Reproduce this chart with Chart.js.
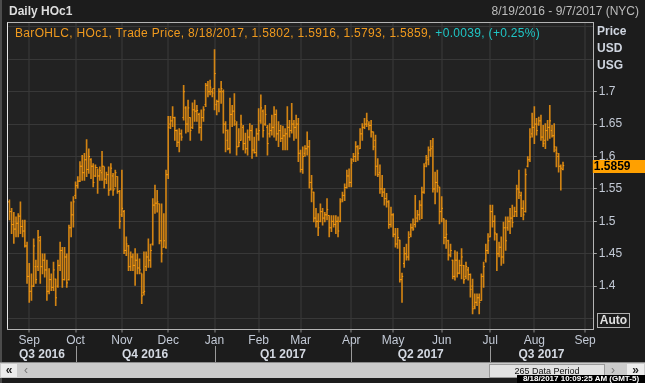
<!DOCTYPE html>
<html>
<head>
<meta charset="utf-8">
<script src="https://cdn.jsdelivr.net/npm/chart.js@4.4.1/dist/chart.umd.min.js"></script>
<style>
  body { margin: 0; background: #1c1c1c; }
  #wrap { position: relative; width: 645px; height: 383px; overflow: hidden; background: #1c1c1c; font-family: "Liberation Sans", Arial, sans-serif; }
  #chart { position: absolute; left: 0; top: 0; }
  .t { position: absolute; font-size: 12px; line-height: 14px; white-space: nowrap; }
  .ax { color: #d0d6e0; font-weight: bold; left: 597px; }
  #scroll { position: absolute; left: 0; top: 362px; width: 645px; height: 15px; background: #cbcbcb; border-top: 1px solid #8c8c8c; }
  .btn { position: absolute; top: 1px; height: 13px; background: #ececec; font-size: 12px; line-height: 12px; font-weight: bold; color: #222; text-align: center; }
  #thumb { position: absolute; left: 489px; top: 1px; width: 114px; height: 12px; background: #e2e2e2; border: 1px solid #9a9a9a; font-size: 9px; line-height: 12px; color: #111; text-align: center; }
  #stamp { position: absolute; right: 0; top: 375px; width: 128px; height: 8px; background: #000; color: #fff; font-size: 8px; line-height: 8px; font-weight: bold; text-align: center; }
</style>
</head>
<body>
<div id="wrap">
  <canvas id="chart" width="645" height="383"></canvas>
  <div style="position:absolute;left:0;top:0;width:2px;height:383px;background:#4c4c4c"></div>
  <div class="t" style="left:9px;top:4px;font-weight:bold;color:#dedede">Daily HOc1</div>
  <div class="t" id="range" style="right:6px;top:4px;color:#bdbdbd"></div>
  <div class="t" id="info" style="left:15px;top:26px;color:#f09a1e;letter-spacing:0.32px"></div>
  <div class="t ax" style="top:24px">Price</div>
  <div class="t ax" style="top:41px">USD</div>
  <div class="t ax" style="top:58px">USG</div>
  <div class="t" style="left:597px;top:313px;width:31px;height:13px;border:1px solid #b0b0b0;line-height:13px;text-align:center;font-weight:bold;color:#e0e0e0">Auto</div>
  <div id="scroll">
    <div class="btn" style="left:1px;width:16px">&laquo;</div>
    <div class="t" style="left:24px;top:0;color:#777">&lsaquo;</div>
    <div id="thumb"></div>
    <div class="t" style="left:611px;top:0;color:#777">&rsaquo;</div>
    <div class="btn" style="left:627px;width:17px">&raquo;</div>
  </div>
  <div id="stamp"></div>
</div>
<script>
// ***** datos *****
const startDay = "2016-08-19"
const endDay = "2017-09-07"
const holidays = ["2016-09-05", "2016-11-24", "2016-12-26", "2017-01-02", "2017-01-16",
  "2017-02-20", "2017-04-14", "2017-05-29", "2017-07-04", "2017-09-04"]
const monthNames = ["Jan", "Feb", "Mar", "Apr", "May", "Jun", "Jul", "Aug", "Sep", "Oct", "Nov", "Dec"]
const quarterNames = ["Q3 2016", "Q4 2016", "Q1 2017", "Q2 2017", "Q3 2017"]
const labelRange = [1.4, 1.7]
const updatedAt = "8/18/2017 10:09:25 AM (GMT-5)"

const openPrices = [
  1.530, 1.515, 1.495, 1.488, 1.497, 1.508, 1.492, 1.485, 1.462, 1.415,
  1.392, 1.400, 1.430, 1.430, 1.470, 1.430, 1.440, 1.425, 1.392, 1.410,
  1.398, 1.411, 1.400, 1.432, 1.455, 1.410, 1.445, 1.410, 1.490, 1.510,
  1.540, 1.555, 1.562, 1.585, 1.575, 1.595, 1.580, 1.595, 1.585, 1.570,
  1.583, 1.570, 1.575, 1.585, 1.565, 1.572, 1.550, 1.570, 1.550, 1.569,
  1.546, 1.510, 1.515, 1.455, 1.462, 1.430, 1.445, 1.432, 1.440, 1.428,
  1.420, 1.390, 1.430, 1.445, 1.440, 1.465, 1.525, 1.528, 1.527, 1.470,
  1.460, 1.460, 1.572, 1.650, 1.655, 1.660, 1.640, 1.622, 1.635, 1.660,
  1.675, 1.650, 1.660, 1.645, 1.672, 1.670, 1.665, 1.645, 1.660, 1.680,
  1.710, 1.700, 1.700, 1.705, 1.680, 1.685, 1.700, 1.700, 1.650, 1.625,
  1.612, 1.665, 1.670, 1.650, 1.615, 1.625, 1.645, 1.620, 1.612, 1.630,
  1.640, 1.610, 1.606, 1.635, 1.655, 1.670, 1.650, 1.645, 1.635, 1.640,
  1.645, 1.665, 1.635, 1.640, 1.628, 1.632, 1.635, 1.645, 1.640, 1.650,
  1.645, 1.650, 1.605, 1.580, 1.605, 1.612, 1.615, 1.560, 1.545, 1.505,
  1.500, 1.500, 1.515, 1.505, 1.510, 1.509, 1.490, 1.500, 1.495, 1.500,
  1.500, 1.533, 1.540, 1.552, 1.570, 1.560, 1.595, 1.600, 1.615, 1.612,
  1.635, 1.645, 1.650, 1.650, 1.648, 1.638, 1.625, 1.585, 1.575, 1.550,
  1.545, 1.535, 1.530, 1.495, 1.510, 1.480, 1.465, 1.471, 1.410, 1.435,
  1.450, 1.445, 1.480, 1.490, 1.495, 1.505, 1.510, 1.525, 1.545, 1.590,
  1.595, 1.610, 1.615, 1.550, 1.560, 1.553, 1.515, 1.504, 1.475, 1.470,
  1.448, 1.440, 1.415, 1.440, 1.420, 1.432, 1.432, 1.415, 1.425, 1.418,
  1.400, 1.368, 1.375, 1.382, 1.378, 1.415, 1.440, 1.455, 1.476, 1.515,
  1.500, 1.480, 1.450, 1.460, 1.445, 1.490, 1.490, 1.500, 1.505, 1.508,
  1.515, 1.550, 1.540, 1.520, 1.515, 1.585, 1.595, 1.635, 1.645, 1.650,
  1.650, 1.655, 1.630, 1.625, 1.640, 1.645, 1.640, 1.632, 1.610, 1.600,
  1.585, 1.5802
]
const highPrices = [
  1.533, 1.520, 1.514, 1.507, 1.512, 1.530, 1.502, 1.502, 1.468, 1.435,
  1.419, 1.473, 1.440, 1.486, 1.477, 1.450, 1.450, 1.440, 1.427, 1.419,
  1.437, 1.411, 1.440, 1.468, 1.460, 1.460, 1.450, 1.494, 1.530, 1.538,
  1.561, 1.569, 1.592, 1.602, 1.605, 1.626, 1.612, 1.597, 1.589, 1.587,
  1.581, 1.584, 1.608, 1.584, 1.576, 1.584, 1.589, 1.574, 1.579, 1.569,
  1.548, 1.579, 1.517, 1.476, 1.463, 1.453, 1.450, 1.458, 1.450, 1.442,
  1.419, 1.453, 1.453, 1.473, 1.465, 1.535, 1.556, 1.548, 1.527, 1.527,
  1.512, 1.579, 1.662, 1.662, 1.677, 1.661, 1.641, 1.643, 1.641, 1.710,
  1.677, 1.687, 1.660, 1.683, 1.687, 1.679, 1.667, 1.672, 1.677, 1.713,
  1.716, 1.718, 1.705, 1.765, 1.687, 1.705, 1.716, 1.703, 1.654, 1.641,
  1.690, 1.679, 1.697, 1.654, 1.643, 1.664, 1.648, 1.636, 1.641, 1.651,
  1.648, 1.630, 1.643, 1.674, 1.695, 1.672, 1.679, 1.648, 1.651, 1.664,
  1.677, 1.672, 1.654, 1.648, 1.647, 1.643, 1.677, 1.656, 1.682, 1.656,
  1.664, 1.659, 1.610, 1.615, 1.617, 1.638, 1.625, 1.571, 1.545, 1.520,
  1.512, 1.527, 1.520, 1.514, 1.535, 1.509, 1.509, 1.509, 1.509, 1.507,
  1.535, 1.545, 1.558, 1.579, 1.581, 1.597, 1.605, 1.623, 1.617, 1.643,
  1.651, 1.659, 1.667, 1.654, 1.656, 1.638, 1.633, 1.597, 1.587, 1.571,
  1.551, 1.543, 1.532, 1.522, 1.512, 1.489, 1.489, 1.471, 1.420, 1.460,
  1.465, 1.484, 1.496, 1.504, 1.540, 1.517, 1.532, 1.553, 1.589, 1.602,
  1.615, 1.625, 1.628, 1.576, 1.579, 1.553, 1.538, 1.504, 1.502, 1.471,
  1.465, 1.440, 1.455, 1.453, 1.440, 1.458, 1.432, 1.437, 1.429, 1.419,
  1.411, 1.388, 1.388, 1.388, 1.419, 1.437, 1.465, 1.481, 1.525, 1.525,
  1.509, 1.481, 1.468, 1.476, 1.499, 1.507, 1.507, 1.520, 1.525, 1.522,
  1.556, 1.579, 1.545, 1.532, 1.581, 1.600, 1.643, 1.667, 1.677, 1.659,
  1.661, 1.664, 1.648, 1.651, 1.656, 1.679, 1.648, 1.651, 1.615, 1.605,
  1.587, 1.5916
]
const lowPrices = [
  1.502, 1.481, 1.466, 1.476, 1.476, 1.481, 1.476, 1.460, 1.404, 1.375,
  1.378, 1.399, 1.404, 1.424, 1.404, 1.419, 1.414, 1.378, 1.388, 1.393,
  1.393, 1.370, 1.398, 1.424, 1.398, 1.409, 1.398, 1.409, 1.476, 1.491,
  1.535, 1.551, 1.561, 1.563, 1.563, 1.569, 1.574, 1.566, 1.553, 1.569,
  1.543, 1.563, 1.563, 1.551, 1.558, 1.540, 1.548, 1.540, 1.553, 1.543,
  1.489, 1.507, 1.450, 1.447, 1.424, 1.424, 1.424, 1.401, 1.419, 1.419,
  1.373, 1.386, 1.424, 1.429, 1.429, 1.463, 1.512, 1.514, 1.465, 1.437,
  1.460, 1.458, 1.566, 1.643, 1.646, 1.625, 1.615, 1.607, 1.625, 1.656,
  1.636, 1.638, 1.625, 1.643, 1.654, 1.654, 1.636, 1.625, 1.654, 1.677,
  1.692, 1.695, 1.692, 1.672, 1.664, 1.669, 1.682, 1.636, 1.607, 1.610,
  1.605, 1.646, 1.648, 1.602, 1.615, 1.625, 1.610, 1.605, 1.602, 1.625,
  1.597, 1.605, 1.600, 1.625, 1.651, 1.630, 1.648, 1.602, 1.630, 1.633,
  1.630, 1.625, 1.615, 1.623, 1.610, 1.610, 1.610, 1.630, 1.636, 1.625,
  1.628, 1.592, 1.576, 1.574, 1.600, 1.602, 1.551, 1.530, 1.499, 1.491,
  1.478, 1.499, 1.494, 1.499, 1.502, 1.476, 1.484, 1.491, 1.481, 1.476,
  1.499, 1.530, 1.532, 1.551, 1.553, 1.553, 1.592, 1.592, 1.594, 1.612,
  1.625, 1.643, 1.646, 1.641, 1.630, 1.610, 1.571, 1.569, 1.543, 1.538,
  1.525, 1.522, 1.489, 1.491, 1.476, 1.460, 1.458, 1.406, 1.375, 1.429,
  1.440, 1.440, 1.476, 1.486, 1.491, 1.499, 1.502, 1.504, 1.543, 1.584,
  1.587, 1.600, 1.545, 1.527, 1.545, 1.496, 1.499, 1.465, 1.458, 1.440,
  1.445, 1.411, 1.409, 1.414, 1.419, 1.411, 1.404, 1.411, 1.409, 1.383,
  1.357, 1.365, 1.370, 1.357, 1.378, 1.398, 1.437, 1.450, 1.476, 1.491,
  1.471, 1.424, 1.445, 1.432, 1.435, 1.455, 1.486, 1.481, 1.491, 1.507,
  1.507, 1.535, 1.507, 1.502, 1.514, 1.584, 1.592, 1.630, 1.620, 1.633,
  1.648, 1.625, 1.615, 1.612, 1.625, 1.628, 1.630, 1.607, 1.584, 1.576,
  1.548, 1.5793
]
const closePrices = [
  1.515, 1.495, 1.488, 1.497, 1.508, 1.492, 1.485, 1.462, 1.415, 1.392,
  1.400, 1.462, 1.410, 1.475, 1.430, 1.440, 1.425, 1.392, 1.410, 1.398,
  1.425, 1.382, 1.432, 1.455, 1.410, 1.445, 1.405, 1.490, 1.510, 1.530,
  1.555, 1.562, 1.585, 1.575, 1.595, 1.580, 1.600, 1.585, 1.560, 1.583,
  1.570, 1.578, 1.585, 1.565, 1.572, 1.548, 1.582, 1.548, 1.575, 1.546,
  1.500, 1.520, 1.455, 1.465, 1.430, 1.445, 1.432, 1.440, 1.428, 1.425,
  1.385, 1.392, 1.445, 1.440, 1.455, 1.525, 1.528, 1.530, 1.470, 1.450,
  1.470, 1.572, 1.645, 1.655, 1.660, 1.640, 1.622, 1.635, 1.630, 1.700,
  1.650, 1.675, 1.640, 1.672, 1.670, 1.671, 1.645, 1.660, 1.672, 1.710,
  1.700, 1.707, 1.698, 1.728, 1.685, 1.700, 1.705, 1.650, 1.640, 1.612,
  1.665, 1.670, 1.655, 1.615, 1.622, 1.650, 1.620, 1.612, 1.630, 1.640,
  1.610, 1.606, 1.635, 1.640, 1.675, 1.640, 1.665, 1.620, 1.640, 1.645,
  1.665, 1.635, 1.640, 1.628, 1.632, 1.635, 1.645, 1.640, 1.650, 1.645,
  1.650, 1.605, 1.580, 1.600, 1.612, 1.615, 1.560, 1.550, 1.505, 1.500,
  1.490, 1.515, 1.505, 1.510, 1.518, 1.490, 1.500, 1.495, 1.500, 1.485,
  1.530, 1.540, 1.552, 1.570, 1.560, 1.590, 1.600, 1.615, 1.605, 1.635,
  1.645, 1.650, 1.655, 1.648, 1.638, 1.615, 1.585, 1.572, 1.550, 1.545,
  1.535, 1.530, 1.495, 1.510, 1.480, 1.465, 1.475, 1.410, 1.415, 1.450,
  1.445, 1.475, 1.490, 1.488, 1.500, 1.510, 1.525, 1.545, 1.585, 1.598,
  1.610, 1.612, 1.550, 1.560, 1.555, 1.515, 1.520, 1.475, 1.480, 1.448,
  1.455, 1.415, 1.440, 1.420, 1.432, 1.445, 1.410, 1.430, 1.418, 1.395,
  1.365, 1.375, 1.382, 1.375, 1.415, 1.430, 1.455, 1.470, 1.515, 1.500,
  1.482, 1.450, 1.460, 1.445, 1.490, 1.470, 1.500, 1.505, 1.498, 1.515,
  1.550, 1.545, 1.520, 1.510, 1.572, 1.595, 1.630, 1.645, 1.650, 1.640,
  1.655, 1.630, 1.620, 1.640, 1.645, 1.655, 1.632, 1.615, 1.605, 1.585,
  1.582, 1.5859
]

// ***** calendario *****
const tradingDays = []
for (let d = new Date(startDay + "T00:00:00Z"); d <= new Date(endDay + "T00:00:00Z"); d.setUTCDate(d.getUTCDate() + 1)) {
  const iso = d.toISOString().slice(0, 10)
  const wd = d.getUTCDay()
  if (wd === 0 || wd === 6 || holidays.includes(iso)) continue
  tradingDays.push(iso)
}
const monthOf = iso => parseInt(iso.slice(5, 7), 10)
const monthStarts = []
tradingDays.forEach((day, i) => {
  if (i > 0 && monthOf(day) !== monthOf(tradingDays[i - 1])) monthStarts.push(i)
})
const quarterStarts = monthStarts.filter(i => [1, 4, 7, 10].includes(monthOf(tradingDays[i])))
const usDate = iso => `${monthOf(iso)}/${parseInt(iso.slice(8), 10)}/${iso.slice(0, 4)}`

// ***** textos *****
const last = closePrices.length - 1
const change = closePrices[last] - closePrices[last - 1]
const sign = change >= 0 ? "+" : "-"
document.getElementById("range").textContent = `${usDate(startDay)} - ${usDate(endDay)} (NYC)`
document.getElementById("info").innerHTML =
  `BarOHLC, HOc1, Trade Price, ${usDate(tradingDays[last])}, ${openPrices[last].toFixed(4)}, ${highPrices[last].toFixed(4)}, ` +
  `${lowPrices[last].toFixed(4)}, ${closePrices[last].toFixed(4)}, ` +
  `<span style="color:#1fc6c6">${sign}${Math.abs(change).toFixed(4)}, (${sign}${(Math.abs(change) / closePrices[last - 1] * 100).toFixed(2)}%)</span>`
document.getElementById("thumb").textContent = `${tradingDays.length} Data Period`
document.getElementById("stamp").textContent = updatedAt

// ***** grafico *****
const barColor = "rgba(248, 152, 16, 0.82)"
const tickColor = "#ff9d0a"
const axisColor = "#c3cad6"
const font = { family: "'Liberation Sans', Arial, sans-serif", size: 12 }

const decor = {
  id: "decor",
  beforeDraw(chart) {
    const { ctx, chartArea: a } = chart
    ctx.save()
    ctx.fillStyle = "#1c1c1c"
    ctx.fillRect(0, 0, chart.width, chart.height)
    ctx.fillStyle = "#222222"
    ctx.fillRect(a.left, a.top, a.right - a.left, a.bottom - a.top)
    ctx.restore()
  },
  afterDraw(chart) {
    const { ctx, chartArea: a, scales } = chart
    ctx.save()
    // marco
    ctx.strokeStyle = "#b4b4b4"
    ctx.lineWidth = 1
    ctx.strokeRect(Math.round(a.left) - 0.5, Math.round(a.top) - 0.5, Math.round(a.right - a.left) + 1, Math.round(a.bottom - a.top) + 1)
    ctx.strokeStyle = "#e6e6e6"
    ctx.beginPath()
    ctx.moveTo(Math.round(a.left) - 0.5, a.top)
    ctx.lineTo(Math.round(a.left) - 0.5, a.bottom)
    ctx.stroke()

    // trimestres
    const edges = [a.left, ...quarterStarts.map(i => scales.x.getPixelForValue(i)), a.right]
    ctx.strokeStyle = "#9a9a9a"
    ctx.fillStyle = "#d4d9e2"
    ctx.font = `bold 12px ${font.family}`
    ctx.textAlign = "center"
    ctx.textBaseline = "middle"
    quarterNames.forEach((name, k) => {
      ctx.fillText(name, (edges[k] + edges[k + 1]) / 2, 355)
      if (k > 0) {
        const x = Math.round(edges[k]) + 0.5
        ctx.beginPath()
        ctx.moveTo(x, 346)
        ctx.lineTo(x, 362)
        ctx.stroke()
      }
    })

    // precio actual
    const y = scales.y.getPixelForValue(closePrices[last])
    ctx.fillStyle = "#ffa000"
    ctx.fillRect(a.right, Math.round(y) - 6, chart.width - a.right, 13)
    ctx.fillStyle = "#000"
    ctx.textAlign = "left"
    ctx.font = `bold 12px ${font.family}`
    ctx.fillText(closePrices[last].toFixed(4), a.right + 1, Math.round(y) + 0.5)
    ctx.restore()
  }
}

const tickShown = v => v > labelRange[0] - 0.01 && v < labelRange[1] + 0.01

new Chart(document.getElementById("chart"), {
  type: "bar",
  data: {
    labels: tradingDays,
    datasets: [
      {
        type: "bar",
        data: highPrices.map((h, i) => [lowPrices[i], h]),
        backgroundColor: barColor,
        barThickness: 1,
        borderWidth: 0,
        order: 2
      },
      {
        type: "line",
        data: openPrices,
        showLine: false,
        pointStyle: "dash",
        pointRotation: 180,
        pointRadius: 1.2,
        pointBorderWidth: 1,
        pointBorderColor: tickColor,
        pointBackgroundColor: tickColor,
        order: 1
      },
      {
        type: "line",
        data: closePrices,
        showLine: false,
        pointStyle: "dash",
        pointRotation: 0,
        pointRadius: 1.2,
        pointBorderWidth: 1,
        pointBorderColor: tickColor,
        pointBackgroundColor: tickColor,
        order: 1
      }
    ]
  },
  options: {
    responsive: false,
    animation: false,
    devicePixelRatio: 1,
    events: [],
    layout: { padding: { left: 8.3, top: 22.5, right: 0, bottom: 0 } },
    plugins: { legend: { display: false }, tooltip: { enabled: false } },
    scales: {
      x: {
        offset: true,
        afterBuildTicks: axis => { axis.ticks = monthStarts.map(v => ({ value: v })) },
        afterFit: axis => { axis.height = 54.5 },
        border: { display: false },
        grid: { offset: false, color: "#2e2e2e", lineWidth: 2, tickLength: 4, tickWidth: 1, tickColor: "#8c8c8c" },
        ticks: {
          autoSkip: false,
          maxRotation: 0,
          padding: 1,
          color: axisColor,
          font: font,
          callback: v => monthNames[monthOf(tradingDays[v]) - 1]
        }
      },
      y: {
        position: "right",
        min: 1.3346,
        max: 1.8068,
        afterFit: axis => { axis.width = 52.2 },
        border: { display: false },
        grid: {
          color: "#383838",
          lineWidth: 1,
          tickLength: 4,
          tickColor: ctx => (ctx.tick && tickShown(ctx.tick.value)) ? "#a8a8a8" : "rgba(0,0,0,0)"
        },
        ticks: {
          stepSize: 0.05,
          includeBounds: false,
          padding: 2,
          color: axisColor,
          font: font,
          callback: v => tickShown(v) ? String(Number(v.toFixed(2))) : ""
        }
      }
    }
  },
  plugins: [decor]
})
</script>
</body>
</html>
